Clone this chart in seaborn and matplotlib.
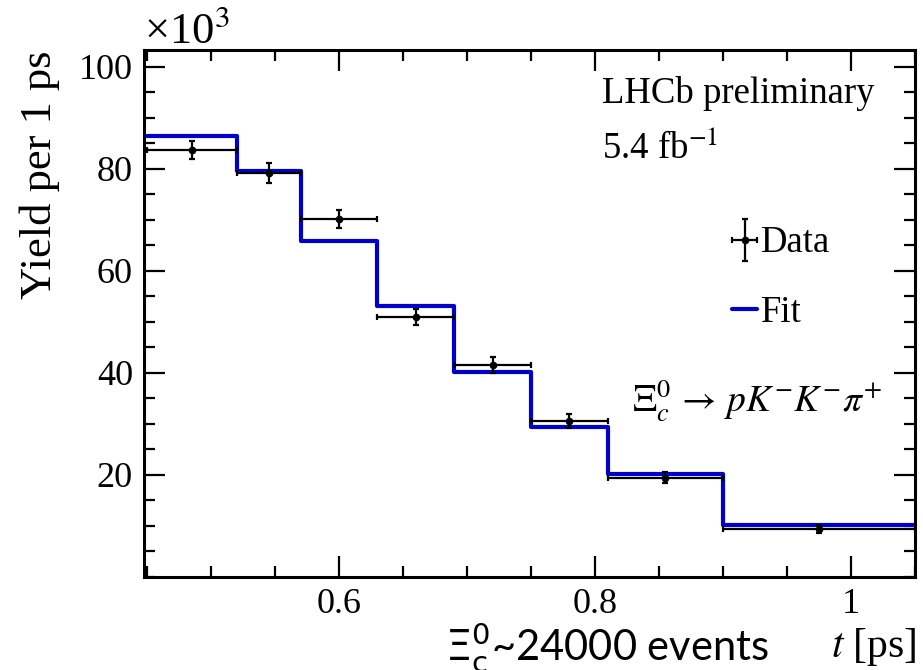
import numpy as np
import pandas as pd
import matplotlib
matplotlib.use("Agg")
import matplotlib.pyplot as plt
from matplotlib.ticker import MultipleLocator, FuncFormatter
from matplotlib.container import ErrorbarContainer
from matplotlib.legend_handler import HandlerErrorbar
from matplotlib.lines import Line2D
import seaborn as sns

# Decay-time bins [ps] and yields (in units of 10^3 per 1 ps)
bin_edges = [0.45, 0.52, 0.57, 0.63, 0.69, 0.75, 0.81, 0.90, 1.05]
data_yield = [83.7, 79.2, 70.2, 50.9, 41.5, 30.6, 19.5, 9.4]
data_error = [1.8, 2.0, 1.8, 1.6, 1.6, 1.4, 1.1, 0.8]
fit_yield = [86.5, 79.5, 65.8, 53.2, 40.1, 29.5, 20.2, 10.2]

x_ticks = [0.6, 0.8, 1.0]
y_ticks = [20, 40, 60, 80, 100]

sns.set_style("ticks")
plt.rcParams["font.family"] = ["Liberation Serif", "DejaVu Serif"]
plt.rcParams["mathtext.fontset"] = "stix"
for key in ("text.color", "axes.labelcolor", "xtick.color", "ytick.color",
            "xtick.labelcolor", "ytick.labelcolor", "axes.edgecolor"):
    plt.rcParams[key] = "black"

edges = np.asarray(bin_edges)
centers = 0.5 * (edges[:-1] + edges[1:])
half_w = 0.5 * np.diff(edges)
df = pd.DataFrame({"t": centers, "fit": fit_yield, "data": data_yield,
                   "err": data_error, "xerr": half_w})

W, H = 923, 670
fig = plt.figure(figsize=(W / 100, H / 100), dpi=100)
fig.subplots_adjust(left=144 / W, right=915 / W, bottom=(H - 577) / H, top=(H - 50) / H)
ax = fig.add_subplot(111)

FIT_BLUE = "#0000cc"

# Fit result as a step histogram
sns.histplot(data=df, x="t", weights="fit", bins=bin_edges, element="step",
             fill=False, color=FIT_BLUE, linewidth=3.0, ax=ax, zorder=2)

# Data points with bin-width and statistical error bars
eb = ax.errorbar(df["t"], df["data"], xerr=df["xerr"], yerr=df["err"], fmt="o",
                 color="black", ms=4.5, elinewidth=1.6, capsize=2.5, capthick=1.6,
                 zorder=3)

ax.set_xlim(0.4477, 1.05)
ax.set_ylim(0, 103.3)

ax.xaxis.set_minor_locator(MultipleLocator(0.05))
ax.set_xticks(x_ticks)
ax.set_yticks(y_ticks)
ax.yaxis.set_minor_locator(MultipleLocator(5))
ax.xaxis.set_major_formatter(FuncFormatter(lambda v, p: f"{v:g}"))

ax.tick_params(which="both", direction="in", top=True, right=True,
               width=1.6, colors="black", labelsize=26)
ax.tick_params(which="major", length=15)
ax.tick_params(which="minor", length=8)
ax.tick_params(axis="y", pad=8)
ax.tick_params(axis="x", pad=8)
for sp in ax.spines.values():
    sp.set_linewidth(2.2)
    sp.set_color("black")
    sp.set_visible(True)

ax.set_xlabel("")
ax.set_ylabel("Yield per 1 ps", fontsize=32)
ax.yaxis.label.set_va("center")
ax.yaxis.set_label_coords((40 - 144) / (915 - 144), (577 - 175) / (577 - 50))

px = fig.dpi_scale_trans


def at(x, y):
    return (x / 100, (H - y) / 100)


fig.text(*at(144, 43), r"×10$^{3}$", fontsize=32, transform=px, va="baseline")
fig.text(*at(602, 103), "LHCb preliminary", fontsize=26.5, transform=px, va="baseline")
fig.text(*at(602, 158), r"5.4 fb$^{-1}$", fontsize=26.5, transform=px, va="baseline")
fig.text(*at(632, 412), r"$\mathit{\Xi}_{c}^{0}\,\rightarrow\,pK^{-}K^{-}\pi^{+}$",
         fontsize=27, transform=px, va="baseline")
fig.text(*at(917, 657), r"$t$ [ps]", fontsize=30, transform=px, va="baseline", ha="right")
fig.text(*at(445, 661), r"$\Xi_{\mathrm{c}}^{0}$~24000 events", fontsize=30,
         family=["Lato", "DejaVu Sans"], math_fontfamily="dejavusans",
         transform=px, va="baseline")

fit_handle = Line2D([], [], color=FIT_BLUE, linewidth=3.0)
ax.legend([eb, fit_handle], ["Data", "Fit"], loc="upper left",
          bbox_to_anchor=at(732, 226), bbox_transform=px, frameon=False,
          fontsize=26.5, borderpad=0, borderaxespad=0, handlelength=0.68,
          handletextpad=0.1, labelspacing=0.95,
          handler_map={ErrorbarContainer: HandlerErrorbar(xerr_size=0.33, yerr_size=0.57)})

fig.savefig("out.png", dpi=100)
